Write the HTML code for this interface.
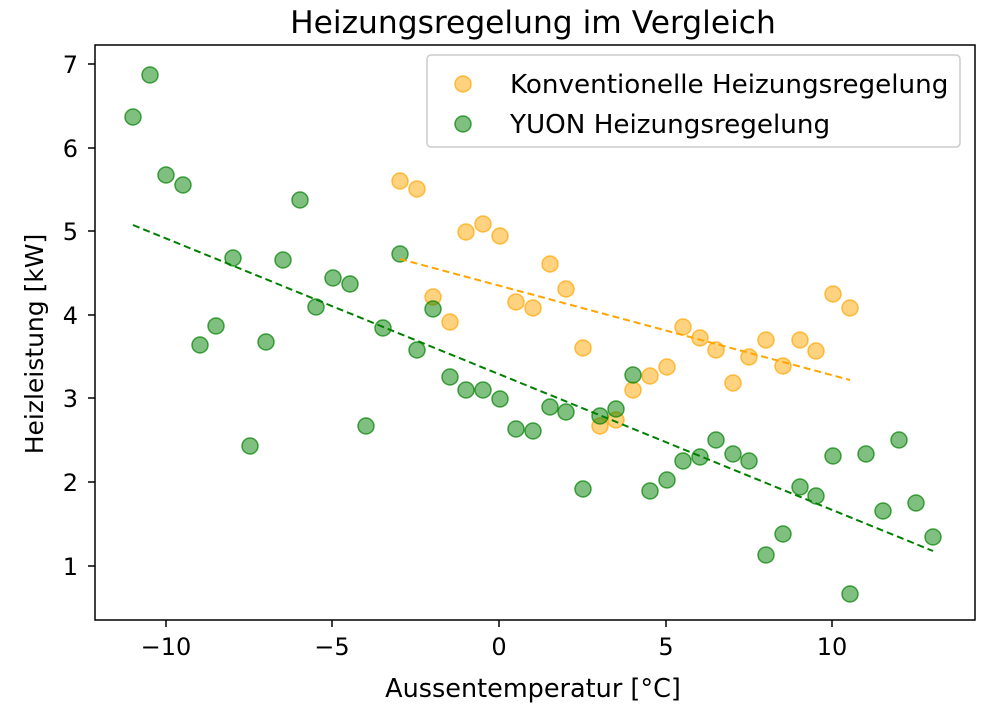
<!DOCTYPE html><html><head><style>body{margin:0;background:#fff}svg{display:block}text{font-family:"DejaVu Sans","Liberation Sans",sans-serif;fill:#000}</style></head><body>
<svg width="1000" height="709" xmlns="http://www.w3.org/2000/svg">
<text x="533" y="33" font-size="31.3" text-anchor="middle">Heizungsregelung im Vergleich</text>
<g fill="orange" fill-opacity="0.5" stroke="orange" stroke-opacity="0.7" stroke-width="1.5">
<circle cx="400" cy="181" r="8"/><circle cx="417" cy="189" r="8"/><circle cx="466" cy="232" r="8"/><circle cx="483" cy="224" r="8"/><circle cx="500" cy="236" r="8"/><circle cx="433" cy="297" r="8"/><circle cx="450" cy="322" r="8"/><circle cx="516" cy="302" r="8"/><circle cx="533" cy="308" r="8"/><circle cx="550" cy="264" r="8"/><circle cx="566" cy="289" r="8"/><circle cx="583" cy="348" r="8"/><circle cx="600" cy="426" r="8"/><circle cx="616" cy="420" r="8"/><circle cx="633" cy="390" r="8"/><circle cx="650" cy="376" r="8"/><circle cx="667" cy="367" r="8"/><circle cx="683" cy="327" r="8"/><circle cx="700" cy="338" r="8"/><circle cx="716" cy="350" r="8"/><circle cx="733" cy="383" r="8"/><circle cx="749" cy="357" r="8"/><circle cx="766" cy="340" r="8"/><circle cx="783" cy="366" r="8"/><circle cx="800" cy="340" r="8"/><circle cx="816" cy="351" r="8"/><circle cx="833" cy="294" r="8"/><circle cx="850" cy="308" r="8"/>
</g>
<g fill="green" fill-opacity="0.5" stroke="green" stroke-opacity="0.7" stroke-width="1.5">
<circle cx="133" cy="117" r="8"/><circle cx="150" cy="75" r="8"/><circle cx="166" cy="175" r="8"/><circle cx="183" cy="185" r="8"/><circle cx="200" cy="345" r="8"/><circle cx="216" cy="326" r="8"/><circle cx="233" cy="258" r="8"/><circle cx="250" cy="446" r="8"/><circle cx="266" cy="342" r="8"/><circle cx="283" cy="260" r="8"/><circle cx="300" cy="200" r="8"/><circle cx="316" cy="307" r="8"/><circle cx="333" cy="278" r="8"/><circle cx="350" cy="284" r="8"/><circle cx="366" cy="426" r="8"/><circle cx="383" cy="328" r="8"/><circle cx="400" cy="254" r="8"/><circle cx="417" cy="350" r="8"/><circle cx="433" cy="309" r="8"/><circle cx="450" cy="377" r="8"/><circle cx="466" cy="390" r="8"/><circle cx="483" cy="390" r="8"/><circle cx="500" cy="399" r="8"/><circle cx="516" cy="429" r="8"/><circle cx="533" cy="431" r="8"/><circle cx="550" cy="407" r="8"/><circle cx="566" cy="412" r="8"/><circle cx="583" cy="489" r="8"/><circle cx="600" cy="416" r="8"/><circle cx="616" cy="409" r="8"/><circle cx="633" cy="375" r="8"/><circle cx="650" cy="491" r="8"/><circle cx="667" cy="480" r="8"/><circle cx="683" cy="461" r="8"/><circle cx="700" cy="457" r="8"/><circle cx="716" cy="440" r="8"/><circle cx="733" cy="454" r="8"/><circle cx="749" cy="461" r="8"/><circle cx="766" cy="555" r="8"/><circle cx="783" cy="534" r="8"/><circle cx="800" cy="487" r="8"/><circle cx="816" cy="496" r="8"/><circle cx="833" cy="456" r="8"/><circle cx="850" cy="594" r="8"/><circle cx="866" cy="454" r="8"/><circle cx="883" cy="511" r="8"/><circle cx="899" cy="440" r="8"/><circle cx="916" cy="503" r="8"/><circle cx="933" cy="537" r="8"/>
</g>
<line x1="133" y1="225" x2="933" y2="551" stroke="green" stroke-width="2" stroke-dasharray="7,4"/>
<line x1="400" y1="259" x2="850" y2="380" stroke="orange" stroke-width="2" stroke-dasharray="7,4"/>
<rect x="95" y="45" width="880" height="575" fill="none" stroke="#000" stroke-width="1.5"/>
<g stroke="#000" stroke-width="1.5">
<line x1="166" y1="620" x2="166" y2="627"/><line x1="332" y1="620" x2="332" y2="627"/><line x1="499" y1="620" x2="499" y2="627"/><line x1="666" y1="620" x2="666" y2="627"/><line x1="832" y1="620" x2="832" y2="627"/>
<line x1="88" y1="64" x2="95" y2="64"/><line x1="88" y1="148" x2="95" y2="148"/><line x1="88" y1="231" x2="95" y2="231"/><line x1="88" y1="315" x2="95" y2="315"/><line x1="88" y1="398" x2="95" y2="398"/><line x1="88" y1="482" x2="95" y2="482"/><line x1="88" y1="566" x2="95" y2="566"/>
</g>
<g font-size="24" text-anchor="middle">
<text x="166" y="655">−10</text><text x="332" y="655">−5</text><text x="499" y="655">0</text><text x="666" y="655">5</text><text x="832" y="655">10</text>
</g>
<g font-size="24" text-anchor="end">
<text x="78" y="73">7</text><text x="78" y="157">6</text><text x="78" y="240">5</text><text x="78" y="324">4</text><text x="78" y="407">3</text><text x="78" y="491">2</text><text x="78" y="575">1</text>
</g>
<text x="533" y="697" font-size="25.5" text-anchor="middle">Aussentemperatur [°C]</text>
<text transform="translate(43,344) rotate(-90)" font-size="25" text-anchor="middle">Heizleistung [kW]</text>
<rect x="427" y="55" width="533" height="92" rx="4" fill="#fff" fill-opacity="0.8" stroke="#ccc" stroke-width="1.5"/>
<circle cx="463" cy="84" r="8" fill="orange" fill-opacity="0.5" stroke="orange" stroke-opacity="0.7" stroke-width="1.5"/>
<circle cx="463" cy="124" r="8" fill="green" fill-opacity="0.5" stroke="green" stroke-opacity="0.7" stroke-width="1.5"/>
<text x="510" y="93" font-size="26.2">Konventionelle Heizungsregelung</text>
<text x="510" y="133" font-size="26.2">YUON Heizungsregelung</text>
</svg></body></html>
